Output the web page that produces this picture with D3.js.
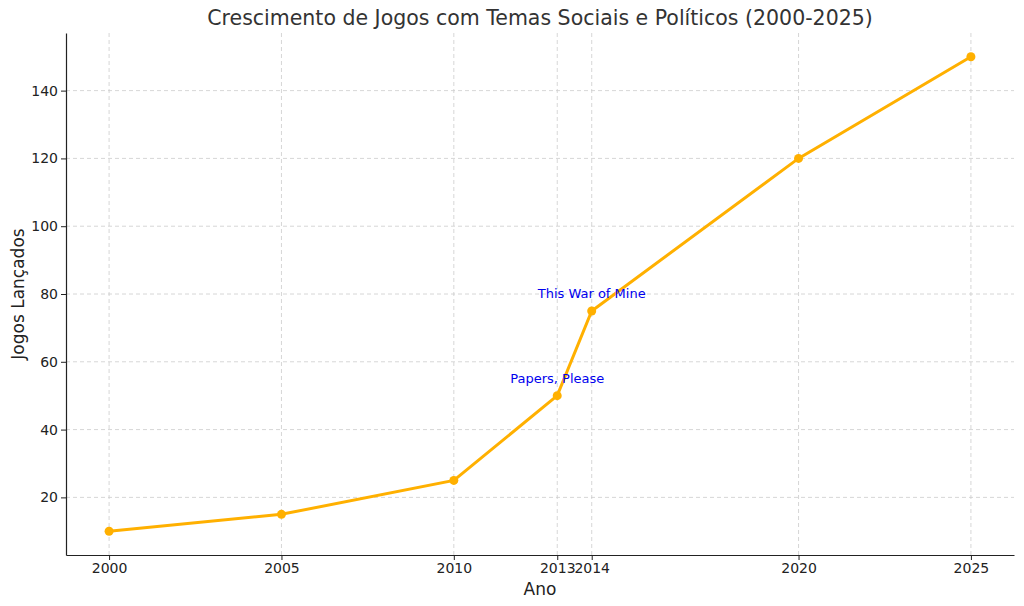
<!DOCTYPE html>
<html><head><meta charset="utf-8">
<script src="https://cdn.jsdelivr.net/npm/d3@7"></script>
<style>body{margin:0;background:#fff}svg{font-family:"DejaVu Sans",sans-serif}</style>
</head><body><svg id="c" width="1024" height="606"></svg>
<script>
const years=[2000,2005,2010,2013,2014,2020,2025];
const games=[10,15,25,50,75,120,150];
const yTicks=[20,40,60,80,100,120,140];
const notes=[{year:2013,value:55,text:"Papers, Please"},{year:2014,value:80,text:"This War of Mine"}];
const svg=d3.select("#c");
const L=66,R=1014,T=33,B=555;
const x=d3.scaleLinear().domain([1998.75,2026.25]).range([L,R]);
const y=d3.scaleLinear().domain([3,157]).range([B,T]);
const g=svg.append("g");
years.forEach(v=>g.append("line").attr("x1",x(v)).attr("x2",x(v)).attr("y1",T).attr("y2",B).attr("stroke","#ccc").attr("stroke-dasharray","4,3").attr("stroke-width",0.8));
yTicks.forEach(v=>g.append("line").attr("x1",L).attr("x2",R).attr("y1",y(v)).attr("y2",y(v)).attr("stroke","#ccc").attr("stroke-dasharray","4,3").attr("stroke-width",0.8));
const xa=svg.append("g").attr("transform",`translate(0,${B})`).call(d3.axisBottom(x).tickValues(years).tickFormat(d3.format("d")).tickSize(5).tickSizeOuter(0));
const ya=svg.append("g").attr("transform",`translate(${L},0)`).call(d3.axisLeft(y).tickValues(yTicks).tickSize(5).tickSizeOuter(0));
[xa,ya].forEach(a=>{a.attr("font-family","DejaVu Sans, sans-serif").attr("font-size",14);a.selectAll("text").attr("fill","#222");a.select(".domain").attr("stroke","#222").attr("stroke-width",1.2);a.selectAll(".tick line").attr("stroke","#222");});
const line=d3.line().x((d,i)=>x(years[i])).y(d=>y(d));
svg.append("path").attr("d",line(games)).attr("fill","none").attr("stroke","#FFB000").attr("stroke-width",3);
svg.selectAll("circle").data(games).enter().append("circle").attr("cx",(d,i)=>x(years[i])).attr("cy",d=>y(d)).attr("r",4.5).attr("fill","#FFB000");
notes.forEach(n=>svg.append("text").attr("x",x(n.year)).attr("y",y(n.value)+4).attr("text-anchor","middle").attr("font-size",13).attr("fill","#0000ee").text(n.text));
svg.append("text").attr("x",540).attr("y",25).attr("text-anchor","middle").attr("font-size",20.5).attr("fill","#333").text("Crescimento de Jogos com Temas Sociais e Políticos (2000-2025)");
svg.append("text").attr("x",540).attr("y",595).attr("text-anchor","middle").attr("font-size",17).attr("fill","#222").text("Ano");
svg.append("text").attr("transform","translate(24,294) rotate(-90)").attr("text-anchor","middle").attr("font-size",17).attr("fill","#222").text("Jogos Lançados");
</script></body></html>
